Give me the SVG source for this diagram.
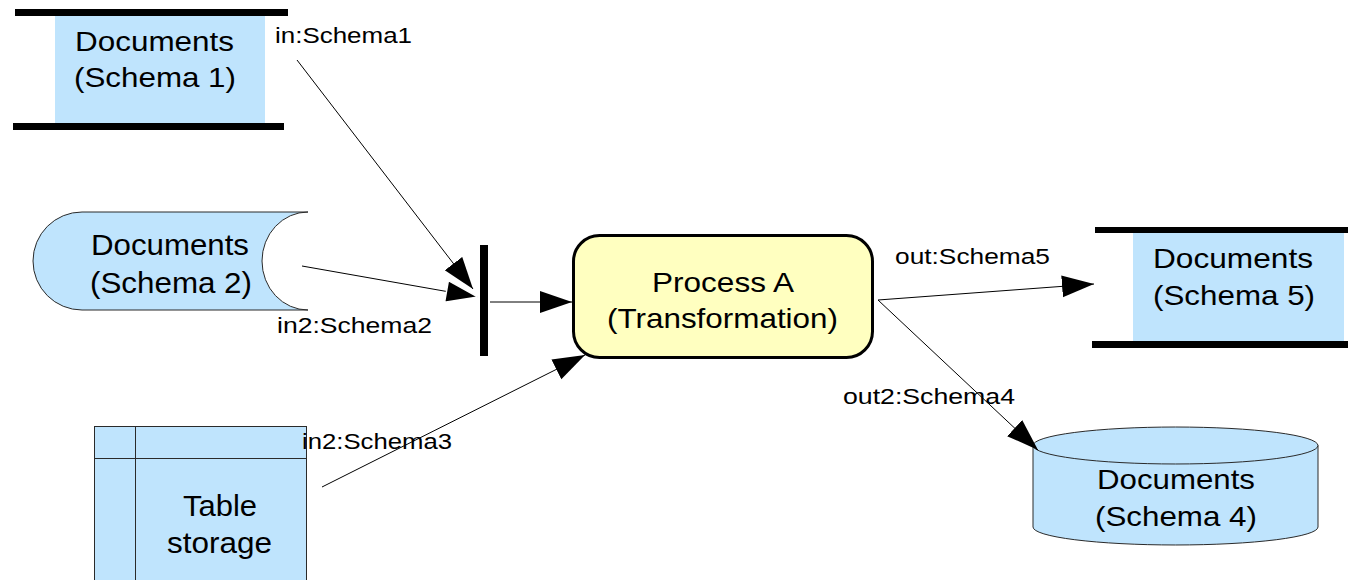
<svg xmlns="http://www.w3.org/2000/svg" width="1348" height="580" viewBox="0 0 1348 580">
<style>
.blue{fill:#bfe4fd}
.edge{stroke:#2a2a2a;stroke-width:1}
.bar{fill:#000}
.t{font-family:"Liberation Sans",Arial,sans-serif;fill:#000}
.lbl{font-family:"Liberation Sans",Arial,sans-serif;font-size:21.5px;fill:#000}
.con{stroke:#000;stroke-width:1;fill:none}
</style>
<defs>
<marker id="arr" markerUnits="userSpaceOnUse" markerWidth="34" markerHeight="24" refX="32" refY="11" orient="auto" viewBox="0 0 34 24">
<path d="M0,0 L32,11 L0,22 Z" fill="#000"/>
</marker>
<marker id="arrW" markerUnits="userSpaceOnUse" markerWidth="36" markerHeight="26" refX="33" refY="12" orient="auto" viewBox="0 0 36 26">
<path d="M1,1 L33,12 L1,23 Z" fill="#000" stroke="#fff" stroke-width="1.5"/>
</marker>
</defs>
<rect width="1348" height="580" fill="#fff"/>

<g id="schema1">
<rect class="blue" x="55" y="15" width="210" height="109"/>
<rect class="bar" x="15" y="9" width="273" height="7"/>
<rect class="bar" x="13" y="123" width="271" height="7"/>
<text class="t" font-size="27.5" x="75" y="51" textLength="159" lengthAdjust="spacingAndGlyphs">Documents</text>
<text class="t" font-size="27.5" x="74" y="87" textLength="162" lengthAdjust="spacingAndGlyphs">(Schema 1)</text>
</g>

<g id="schema2">
<path class="blue edge" d="M82,212 L308,212 A46,49 0 0 0 308,310 L82,310 A49,49 0 0 1 82,212 Z"/>
<text class="t" font-size="30" x="91" y="255" textLength="158" lengthAdjust="spacingAndGlyphs">Documents</text>
<text class="t" font-size="30" x="90" y="293" textLength="162" lengthAdjust="spacingAndGlyphs">(Schema 2)</text>
</g>

<g id="table-storage">
<rect class="blue edge" x="94.5" y="426.5" width="212" height="170"/>
<line class="edge" x1="94.5" y1="458.5" x2="306.5" y2="458.5"/>
<line class="edge" x1="135.5" y1="426.5" x2="135.5" y2="596"/>
<text class="t" font-size="30" x="183" y="516" textLength="74" lengthAdjust="spacingAndGlyphs">Table</text>
<text class="t" font-size="30" x="167" y="553" textLength="105" lengthAdjust="spacingAndGlyphs">storage</text>
</g>

<g id="join-bar">
<rect class="bar" x="480" y="245" width="8" height="111"/>
</g>

<g id="process-a">
<rect x="573.5" y="235.5" width="299" height="122" rx="26" ry="26" fill="#ffffc0" stroke="#000" stroke-width="3"/>
<text class="t" font-size="28" x="652" y="292" textLength="142" lengthAdjust="spacingAndGlyphs">Process A</text>
<text class="t" font-size="28" x="607" y="328" textLength="231" lengthAdjust="spacingAndGlyphs">(Transformation)</text>
</g>

<g id="schema5">
<rect class="blue" x="1133" y="232" width="211" height="110"/>
<rect class="bar" x="1095" y="227" width="253" height="6"/>
<rect class="bar" x="1092" y="341" width="256" height="7"/>
<text class="t" font-size="28" x="1153" y="268" textLength="160" lengthAdjust="spacingAndGlyphs">Documents</text>
<text class="t" font-size="28" x="1153" y="305" textLength="162" lengthAdjust="spacingAndGlyphs">(Schema 5)</text>
</g>

<g id="schema4">
<path class="blue edge" d="M1033,445.5 L1033,527 A142.5,18 0 0 0 1318,527 L1318,445.5 A142.5,18.5 0 0 0 1033,445.5 Z"/>
<path class="edge" fill="none" d="M1033,445.5 A142.5,18.5 0 0 0 1318,445.5"/>
<text class="t" font-size="28.5" x="1097" y="489" textLength="158" lengthAdjust="spacingAndGlyphs">Documents</text>
<text class="t" font-size="28.5" x="1095" y="526" textLength="162" lengthAdjust="spacingAndGlyphs">(Schema 4)</text>
</g>

<g id="connectors">
<line class="con" x1="297" y1="60" x2="473" y2="289" marker-end="url(#arr)"/>
<line class="con" x1="302" y1="266" x2="478" y2="297" marker-end="url(#arrW)"/>
<line class="con" x1="490" y1="302" x2="572" y2="302" marker-end="url(#arr)"/>
<line class="con" x1="322" y1="487" x2="585" y2="355" marker-end="url(#arr)"/>
<line class="con" x1="878" y1="300" x2="1094" y2="284" marker-end="url(#arr)"/>
<line class="con" x1="878" y1="300" x2="1038" y2="450" marker-end="url(#arr)"/>
<text class="lbl" x="275" y="43" textLength="137" lengthAdjust="spacingAndGlyphs">in:Schema1</text>
<text class="lbl" x="277" y="333" textLength="155" lengthAdjust="spacingAndGlyphs">in2:Schema2</text>
<text class="lbl" x="302" y="449" textLength="150" lengthAdjust="spacingAndGlyphs">in2:Schema3</text>
<text class="lbl" x="895" y="264" textLength="155" lengthAdjust="spacingAndGlyphs">out:Schema5</text>
<text class="lbl" x="843" y="404" textLength="172" lengthAdjust="spacingAndGlyphs">out2:Schema4</text>
</g>
</svg>
